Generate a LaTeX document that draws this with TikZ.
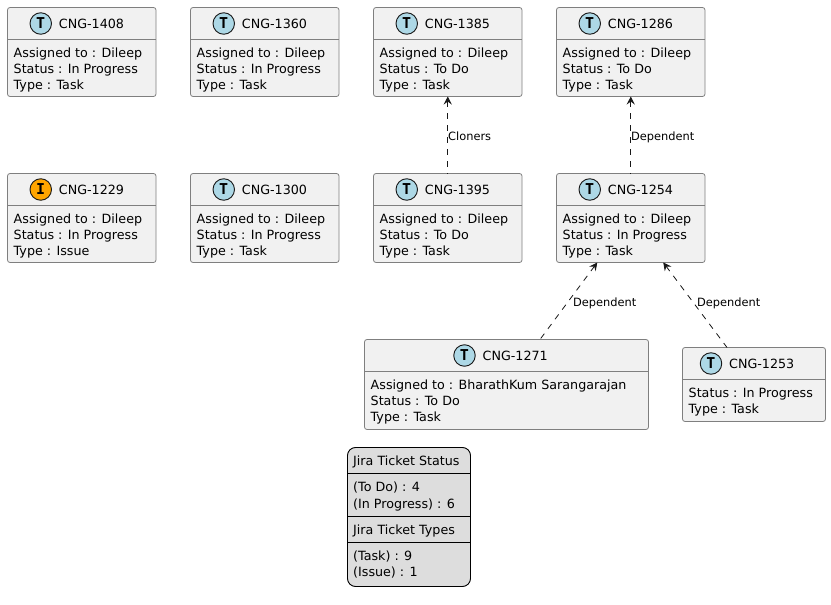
\documentclass[tikz,border=0pt]{standalone}
\usepackage{fontspec}
\setmainfont{DejaVu Sans}
\newfontfamily\iconfont{DejaVu Sans Mono}[FakeBold=0]
\usetikzlibrary{calc,arrows.meta}
\definecolor{boxfill}{HTML}{F1F1F1}
\definecolor{legendfill}{HTML}{DDDDDD}
\definecolor{boxedge}{HTML}{7F7F7F}
\definecolor{ink}{HTML}{181818}
\definecolor{taskblue}{HTML}{ADD8E6}
\definecolor{issueorange}{HTML}{FFA500}
\tikzset{
  box/.style={draw=boxedge,fill=boxfill,line width=0.8pt,rounded corners=2.5pt,inner sep=0,outer sep=0,anchor=north west},
  rule/.style={draw=boxedge,line width=0.8pt},
  legendbox/.style={draw=black,fill=legendfill,line width=0.9pt,rounded corners=8pt,inner sep=0,outer sep=0,anchor=north west},
  legendrule/.style={draw=black,line width=0.9pt},
  bodytext/.style={anchor=base west,inner sep=0,font=\fontsize{12.7}{15}\selectfont,text=black},
  headtext/.style={anchor=base west,inner sep=0,font=\fontsize{12.7}{15}\selectfont,text=black},
  edgelabel/.style={anchor=base west,inner sep=0,font=\fontsize{11.4}{14}\selectfont,text=black},
  icon/.style={circle,draw=ink,line width=0.9pt,minimum size=21.5pt,inner sep=0,font=\iconfont\bfseries\fontsize{15}{15}\selectfont,text=black},
  dep/.style={draw=ink,line width=0.8pt,dash pattern=on 6pt off 6pt,
    {Stealth[inset=3pt,length=8pt,width=8pt]}-},
}
% id, left, top, width, height, header height, icon offset from box centre, text offset, letter, colour, lines
\newcommand{\ticket}[9]{%
  \node[box,minimum width=#4pt,minimum height=#5pt] (n#1) at (#2,#3) {};
  \draw[rule] ($(n#1.north west)+(0,#6)$) -- ($(n#1.north east)+(0,#6)$);
  \node[icon,fill=#9] (i#1) at ($(n#1.north)+(#7,16)$) {#8};
  \node[headtext] (h#1) at ($(n#1.north)+(#7,21)+(18,0)$) {CNG-#1};
  \ticketlines{#1}{#6}%
}
\newcommand{\ticketlines}[2]{%
  \foreach \tx [count=\k from 0] in \currentlines {
    \node[bodytext] (t#1-\k) at ($(n#1.north west)+(6,#2+17.5+16.3*\k)$) {\tx};
  }%
}
\begin{document}
\begin{tikzpicture}[x=1pt,y=-1pt]
\useasboundingbox (0,0) rectangle (831,605);
\def\currentlines{Assigned to : Dileep,Status : In Progress,Type : Task}
\ticket{1408}{7.5}{7.5}{148.5}{89}{32}{-41}{T}{taskblue}
\ticket{1360}{190.5}{7.5}{148.5}{89}{32}{-41}{T}{taskblue}
\def\currentlines{Assigned to : Dileep,Status : To Do,Type : Task}
\ticket{1385}{373.5}{7.5}{148.5}{89}{32}{-41}{T}{taskblue}
\ticket{1286}{556.5}{7.5}{148.5}{89}{32}{-41}{T}{taskblue}
\def\currentlines{Assigned to : Dileep,Status : In Progress,Type : Issue}
\ticket{1229}{7.5}{173.5}{148.5}{89}{32}{-41}{I}{issueorange}
\def\currentlines{Assigned to : Dileep,Status : In Progress,Type : Task}
\ticket{1300}{190.5}{173.5}{148.5}{89}{32}{-41}{T}{taskblue}
\def\currentlines{Assigned to : Dileep,Status : To Do,Type : Task}
\ticket{1395}{373.5}{173.5}{148.5}{89}{32}{-41}{T}{taskblue}
\def\currentlines{Assigned to : Dileep,Status : In Progress,Type : Task}
\ticket{1254}{556.5}{173.5}{148.5}{89}{32}{-41}{T}{taskblue}
\def\currentlines{Assigned to : BharathKum Sarangarajan,Status : To Do,Type : Task}
\ticket{1271}{364.5}{339.5}{284}{90}{32}{-42}{T}{taskblue}
\def\currentlines{Status : In Progress,Type : Task}
\ticket{1253}{682.5}{347.5}{143}{74}{32}{-43}{T}{taskblue}

\draw[dep] (n1385.south) -- (n1395.north);
\draw[dep] (n1286.south) -- (n1254.north);
\draw[dep] ($(n1254.south)+(-33.5,0)$) -- ($(n1271.north)+(33.5,0)$);
\draw[dep] ($(n1254.south)+(32.5,0)$) -- ($(n1253.north)+(-27,0)$);

\node[edgelabel] (l1) at (448,140) {Cloners};
\node[edgelabel] (l2) at (631,140) {Dependent};
\node[edgelabel] (l3) at (573,306) {Dependent};
\node[edgelabel] (l4) at (697,306) {Dependent};

\node[legendbox,minimum width=123pt,minimum height=139pt] (lg) at (347.5,447.5) {};
\draw[legendrule] ($(lg.north west)+(0,26)$) -- ($(lg.north east)+(0,26)$);
\draw[legendrule] ($(lg.north west)+(0,68.5)$) -- ($(lg.north east)+(0,68.5)$);
\draw[legendrule] ($(lg.north west)+(0,95)$) -- ($(lg.north east)+(0,95)$);
\node[bodytext] (g1) at (353,465) {Jira Ticket Status};
\node[bodytext] (g2) at (353,491.7) {(To Do) : 4};
\node[bodytext] (g3) at (353,508) {(In Progress) : 6};
\node[bodytext] (g4) at (353,534) {Jira Ticket Types};
\node[bodytext] (g5) at (353,560.7) {(Task) : 9};
\node[bodytext] (g6) at (353,576.7) {(Issue) : 1};
\end{tikzpicture}
\end{document}
